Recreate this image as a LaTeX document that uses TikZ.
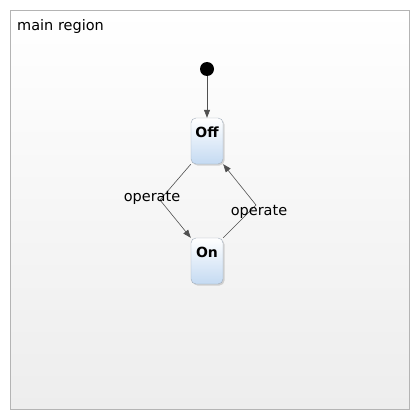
\documentclass[tikz,border=0pt]{standalone}
\usepackage{fontspec}
\setmainfont{DejaVu Sans}
\usetikzlibrary{arrows.meta, positioning, shadows}
\definecolor{regionFrame}{HTML}{B4B4B4}
\definecolor{regionBottom}{HTML}{EDEDED}
\definecolor{stateBorder}{HTML}{A0ACBA}
\definecolor{stateBottom}{HTML}{C4DAF2}
\definecolor{arrowGray}{HTML}{505050}
\begin{document}
\begin{tikzpicture}[x=1pt, y=-1pt,
    state/.style={draw=stateBorder, rounded corners=5pt, top color=white, bottom color=stateBottom,
        minimum width=32pt, inner xsep=0pt, inner ysep=3pt, text height=16pt, text depth=24pt,
        font=\fontsize{14}{16}\selectfont\bfseries,
        drop shadow={shadow xshift=1.5pt, shadow yshift=-1.5pt, opacity=0.3}},
    initial/.style={circle, fill=black, minimum size=14pt, inner sep=0pt},
    trans/.style={font=\fontsize{14.5}{16}\selectfont, inner sep=1pt},
    arrow/.style={-{Triangle[length=8pt, width=6pt]}, arrowGray, line width=0.6pt},
]
    \useasboundingbox (0,0) rectangle (420,420);
    % region
    \draw[regionFrame, top color=white, bottom color=regionBottom] (10,10) rectangle (409,409);
    \node[trans, anchor=base west, inner sep=0pt] (region) at (17,31) {main region};

    % states
    \node[initial] (init) at (207,69) {};
    \node[state] (off) at (207,141) {Off};
    \node[state] (on) at (207,261) {On};

    \coordinate (turnon) at (160,200);
    \coordinate (turnoff) at (256,205);

    \draw[arrow] (init) -- (off);
    \draw[arrow] (off.south west) -- (turnon) -- (on.north west);
    \draw[arrow] (on.north east) -- (turnoff) -- (off.south east);

    \node[trans] (opleft) at (152,198) {operate};
    \node[trans] (opright) at (259,212) {operate};
\end{tikzpicture}
\end{document}
